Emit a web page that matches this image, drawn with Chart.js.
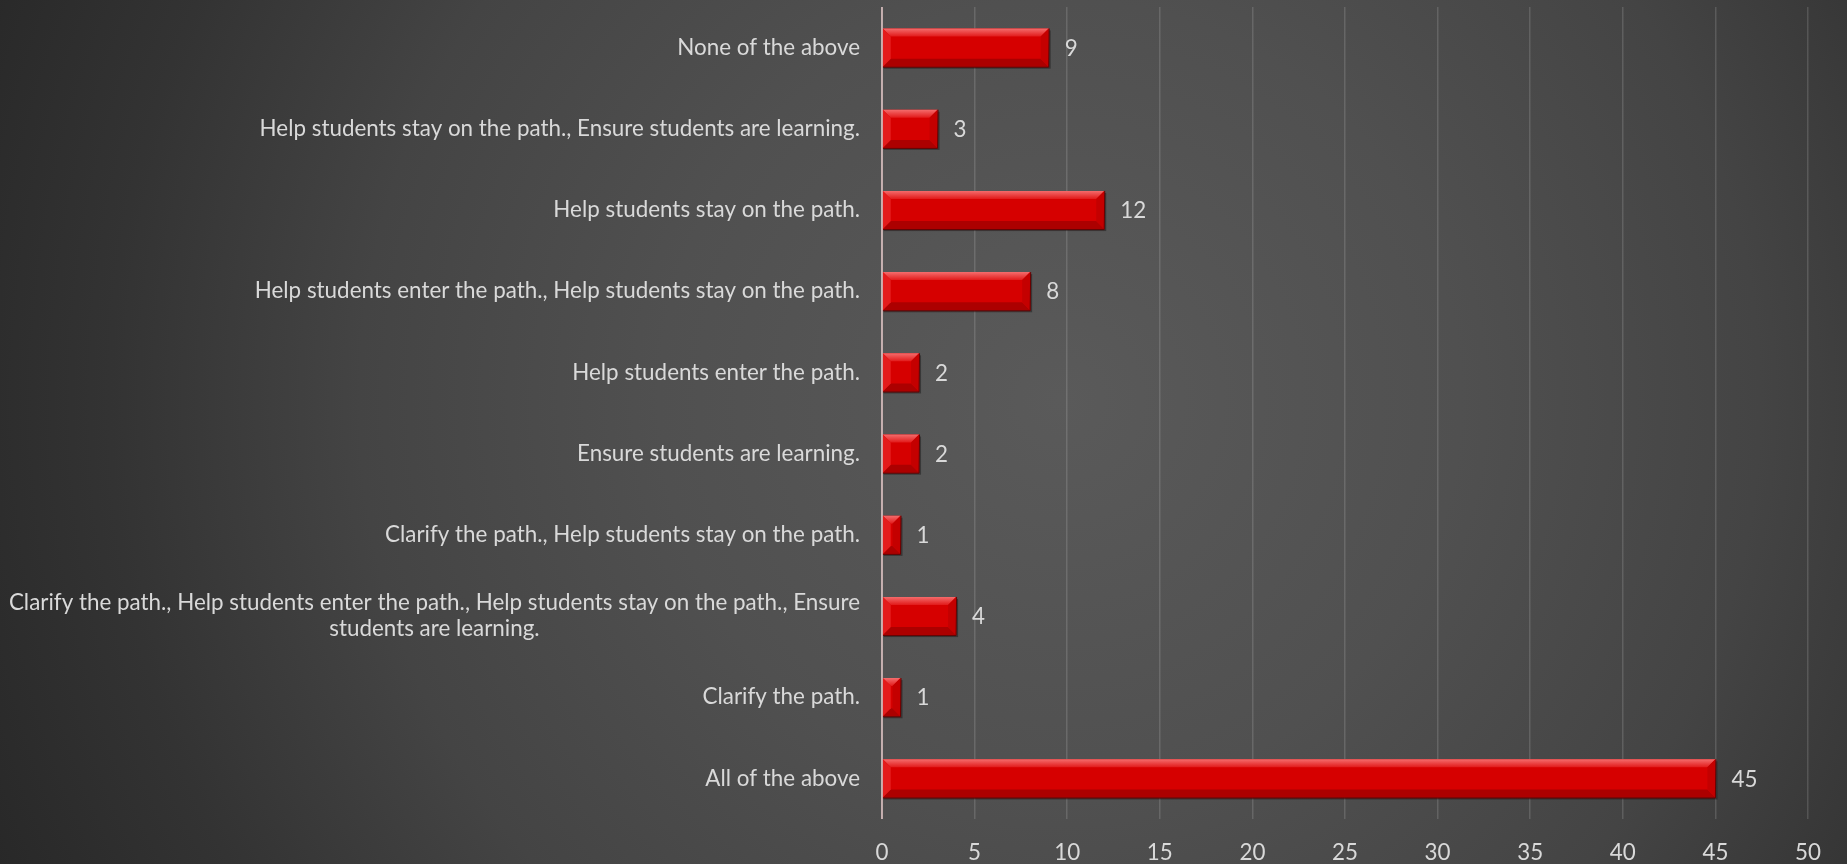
<!DOCTYPE html>
<html>
<head>
<meta charset="utf-8">
<script src="https://cdn.jsdelivr.net/npm/chart.js@4/dist/chart.umd.min.js"></script>
<style>
  html, body { margin: 0; padding: 0; }
  body {
    width: 1847px; height: 864px; overflow: hidden;
    background: radial-gradient(circle at 1060px 400px, #5a5a5a 0px, #505050 400px, #444444 700px, #333333 950px, #262626 1200px);
  }
  #chart { display: block; }
</style>
</head>
<body>
<canvas id="chart" width="1847" height="864"></canvas>
<script>
// respostas (de cima para baixo)
const categories = [
  'None of the above',
  'Help students stay on the path., Ensure students are learning.',
  'Help students stay on the path.',
  'Help students enter the path., Help students stay on the path.',
  'Help students enter the path.',
  'Ensure students are learning.',
  'Clarify the path., Help students stay on the path.',
  ['Clarify the path., Help students enter the path., Help students stay on the path., Ensure', 'students are learning.'],
  'Clarify the path.',
  'All of the above'
];
const counts = [9, 3, 12, 8, 2, 2, 1, 4, 1, 45];
const xTicks = [0, 5, 10, 15, 20, 25, 30, 35, 40, 45, 50];

const FONT = 'Lato, "Open Sans", sans-serif';
const FONT_SIZE = 22.4;
const TEXT = '#d9d9d9';

// Rótulos do eixo Y (linhas centradas quando há quebra) e valores nas barras
const labelsPlugin = {
  id: 'labels',
  beforeDatasetsDraw(chart) {
    const ctx = chart.ctx;
    const meta = chart.getDatasetMeta(0);
    ctx.save();
    ctx.fillStyle = 'rgba(0,0,0,0.35)';
    meta.data.forEach(bar => {
      const { x, y, base, height } = bar.getProps(['x', 'y', 'base', 'height'], true);
      ctx.fillRect(base + 1, y - height / 2 + 2, x - base + 1, height);
    });
    ctx.restore();
  },
  afterDatasetsDraw(chart) {
    const ctx = chart.ctx;
    const meta = chart.getDatasetMeta(0);
    const yScale = chart.scales.y;
    ctx.save();

    // bevel das barras
    meta.data.forEach(bar => {
      const { x, y, base, height } = bar.getProps(['x', 'y', 'base', 'height'], true);
      const l = base, r = x, t = y - height / 2, b = y + height / 2;
      const bv = Math.min(8, (r - l) / 2);
      const g = ctx.createLinearGradient(0, t, 0, t + bv);
      g.addColorStop(0, '#f46c6c');
      g.addColorStop(1, '#e21a1a');
      ctx.fillStyle = g;
      ctx.beginPath();
      ctx.moveTo(l, t); ctx.lineTo(r, t); ctx.lineTo(r - bv, t + bv); ctx.lineTo(l + bv, t + bv); ctx.closePath();
      ctx.fill();
      ctx.fillStyle = '#ac0000';
      ctx.beginPath();
      ctx.moveTo(l + bv, b - bv); ctx.lineTo(r - bv, b - bv); ctx.lineTo(r, b); ctx.lineTo(l, b); ctx.closePath();
      ctx.fill();
      ctx.fillStyle = '#c40000';
      ctx.beginPath();
      ctx.moveTo(r, t); ctx.lineTo(r, b); ctx.lineTo(r - bv, b - bv); ctx.lineTo(r - bv, t + bv); ctx.closePath();
      ctx.fill();
      ctx.fillStyle = '#e41c1c';
      ctx.beginPath();
      ctx.moveTo(l, t); ctx.lineTo(l + bv, t + bv); ctx.lineTo(l + bv, b - bv); ctx.lineTo(l, b); ctx.closePath();
      ctx.fill();
      ctx.strokeStyle = '#6a0000';
      ctx.lineWidth = 1;
      ctx.beginPath();
      ctx.moveTo(l, b + 0.5); ctx.lineTo(r, b + 0.5); ctx.lineTo(r + 0.5, t);
      ctx.stroke();
    });

    // linha do eixo zero por cima das barras
    ctx.strokeStyle = 'rgba(230,200,200,0.75)';
    ctx.lineWidth = 2;
    ctx.beginPath();
    ctx.moveTo(chart.chartArea.left, chart.chartArea.top);
    ctx.lineTo(chart.chartArea.left, chart.chartArea.bottom);
    ctx.stroke();

    ctx.font = FONT_SIZE + 'px ' + FONT;
    ctx.fillStyle = TEXT;
    ctx.textBaseline = 'middle';

    // valores
    ctx.textAlign = 'left';
    meta.data.forEach((bar, i) => {
      ctx.fillText(String(counts[i]), bar.x + 16, bar.y + 1);
    });

    // categorias
    const right = chart.chartArea.left - 22;
    categories.forEach((lab, i) => {
      const lines = Array.isArray(lab) ? lab : [lab];
      const yc = yScale.getPixelForValue(i);
      const boxW = Math.max(...lines.map(s => ctx.measureText(s).width));
      const lh = 26;
      lines.forEach((s, k) => {
        const yy = yc + (k - (lines.length - 1) / 2) * lh;
        if (lines.length > 1) {
          ctx.textAlign = 'center';
          ctx.fillText(s, right - boxW / 2, yy);
        } else {
          ctx.textAlign = 'right';
          ctx.fillText(s, right, yy);
        }
      });
    });
    ctx.restore();
  }
};

new Chart(document.getElementById('chart'), {
  type: 'bar',
  data: {
    labels: categories,
    datasets: [{
      data: counts,
      backgroundColor: '#d60000',
      borderWidth: 0,
      barPercentage: 0.47,
      categoryPercentage: 1
    }]
  },
  options: {
    indexAxis: 'y',
    responsive: false,
    animation: false,
    layout: { padding: { top: 7, right: 39, left: 0, bottom: 0 } },
    plugins: { legend: { display: false }, tooltip: { enabled: false } },
    scales: {
      x: {
        min: 0,
        max: 50,
        afterBuildTicks: s => { s.ticks = xTicks.map(v => ({ value: v })); },
        afterFit: s => { s.height = 45; },
        ticks: { color: TEXT, font: { family: FONT, size: FONT_SIZE }, padding: 20 },
        grid: { color: 'rgba(255,255,255,0.14)', lineWidth: 1.5, drawTicks: false },
        border: { display: false }
      },
      y: {
        afterFit: s => { s.width = 882; },
        ticks: { display: false },
        grid: { display: false },
        border: { display: false }
      }
    }
  },
  plugins: [labelsPlugin]
});
</script>
</body>
</html>
